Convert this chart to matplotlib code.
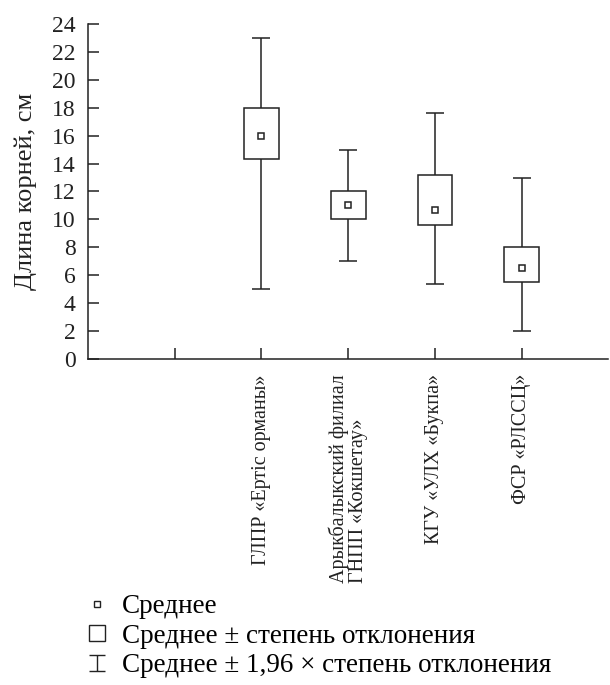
import matplotlib
matplotlib.use("Agg")
import matplotlib.pyplot as plt
from matplotlib.lines import Line2D
from matplotlib.path import Path

plt.rcParams["font.family"] = ["Liberation Serif", "DejaVu Serif"]

categories = [
    "ГЛПР «Ертіс орманы»",
    "Арыкбалыкский филиал\nГНПП «Кокшетау»",
    "КГУ «УЛХ «Букпа»",
    "ФСР «РЛССЦ»",
]
means = [16.0, 11.0, 10.7, 6.5]
box_low = [14.3, 10.0, 9.6, 5.5]
box_high = [18.0, 12.0, 13.2, 8.0]
whisker_low = [5.0, 7.0, 5.4, 2.0]
whisker_high = [23.0, 15.0, 17.6, 13.0]

positions = [2, 3, 4, 5]
col = "#222222"

fig = plt.figure(figsize=(6.1, 6.85), dpi=100)
ax = fig.add_axes([0.1443, 0.476, 0.853, 0.489])

err_low = [m - lo for m, lo in zip(means, whisker_low)]
err_high = [hi - m for m, hi in zip(means, whisker_high)]
ax.errorbar(positions, means, yerr=[err_low, err_high], fmt="none",
            ecolor=col, elinewidth=1.1, capsize=6.5, capthick=1.1, zorder=1)
heights = [hi - lo for lo, hi in zip(box_low, box_high)]
ax.bar(positions, heights, bottom=box_low, width=0.4, facecolor="white",
       edgecolor=col, linewidth=1.1, zorder=2)
ax.plot(positions, means, linestyle="none", marker="s", markersize=5,
        markerfacecolor="white", markeredgecolor=col, markeredgewidth=1.1, zorder=3)

ax.set_xlim(0, 6)
ax.set_ylim(0, 24)
ax.set_yticks(range(0, 25, 2))
ax.set_xticks([1] + positions)
ax.set_xticklabels([""] + categories, rotation=90, fontsize=14.5,
                   va="top", ha="center", multialignment="left", linespacing=0.95)
ax.spines["top"].set_visible(False)
ax.spines["right"].set_visible(False)
for s in ["left", "bottom"]:
    ax.spines[s].set_linewidth(1.1)
    ax.spines[s].set_color(col)
ax.tick_params(axis="y", direction="in", length=8, width=1.1, labelsize=17, pad=9, colors=col)
ax.tick_params(axis="x", direction="in", length=8, width=1.1, pad=11, colors=col)
ax.set_ylabel("Длина корней, см", fontsize=19, color=col)
ax.yaxis.set_label_coords(-0.098, 0.5)

cap_path = Path(
    [(-0.5, 0.5), (0.5, 0.5), (0, 0.5), (0, -0.5), (-0.5, -0.5), (0.5, -0.5)],
    [Path.MOVETO, Path.LINETO, Path.MOVETO, Path.LINETO, Path.MOVETO, Path.LINETO],
)
handles = [
    Line2D([], [], linestyle="none", marker="s", markersize=5,
           markerfacecolor="white", markeredgecolor=col, markeredgewidth=1.0),
    Line2D([], [], linestyle="none", marker="s", markersize=11.5,
           markerfacecolor="white", markeredgecolor=col, markeredgewidth=1.0),
    Line2D([], [], linestyle="none", marker=cap_path, markersize=12,
           markeredgecolor=col, markeredgewidth=1.0),
]
labels = [
    "Среднее",
    "Среднее ± степень отклонения",
    "Среднее ± 1,96 × степень отклонения",
]
fig.legend(handles, labels, loc="upper left",
           bbox_to_anchor=(0.137, 1 - 594 / 685), bbox_transform=fig.transFigure,
           frameon=False, fontsize=19.5, handlelength=1.0, handletextpad=0.42,
           labelspacing=0.175, borderaxespad=0, borderpad=0)

fig.savefig("out.png", dpi=100)
